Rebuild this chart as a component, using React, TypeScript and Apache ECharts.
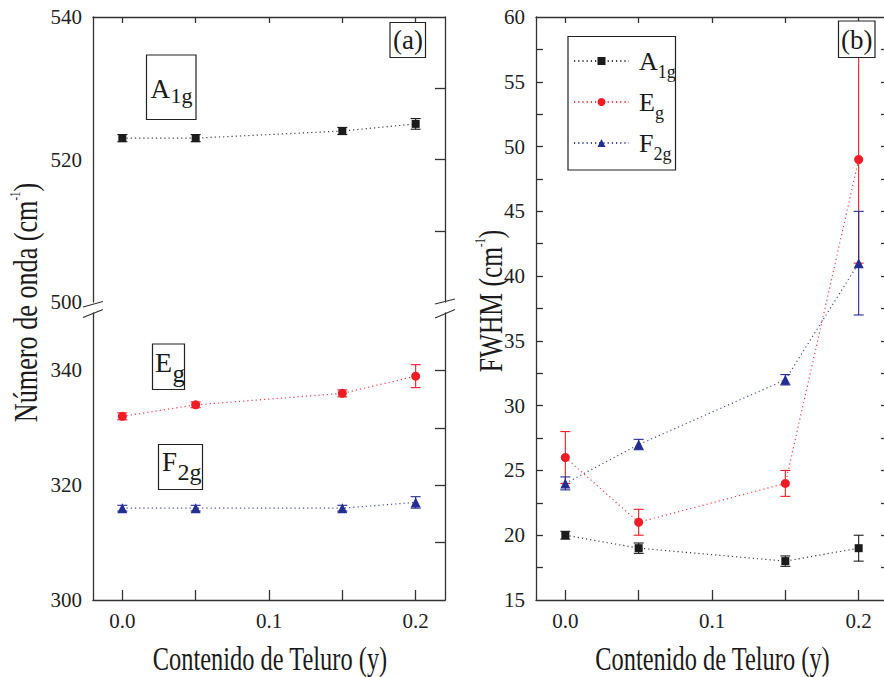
import React, { useEffect, useRef } from 'react';
import * as echarts from 'echarts';

// ---------- data ----------
const composition = [0, 0.05, 0.15, 0.2];

// panel (a): Raman shift (cm^-1)
const waveA1g = [523, 523, 524, 525];
const waveA1gErr = [0.5, 0.5, 0.5, 0.75];
const waveEg = [332, 334, 336, 339];
const waveEgErr = [0.6, 0.5, 0.6, 2];
const waveF2g = [316, 316, 316, 317];
const waveF2gErr = [0.5, 0.5, 0.5, 1];

// panel (b): FWHM (cm^-1)
const fwhmA1g = [20, 19, 18, 19];
const fwhmA1gErr = [0.3, 0.4, 0.4, 1];
const fwhmEg = [26, 21, 24, 49];
const fwhmEgErr = [2, 1, 1, 8];
const fwhmF2g = [24, 27, 32, 41];
const fwhmF2gErr = [0.5, 0.4, 0.4, 4];

// ticks / labels
const xTickValues = [0, 0.05, 0.1, 0.15, 0.2];
const xLabelValues = [0, 0.1, 0.2];
const waveTopLabels = [500, 520, 540];
const waveTopTicks = [510, 520, 530];
const waveBottomLabels = [300, 320, 340];
const waveBottomTicks = [310, 320, 330, 340];
const fwhmLabels = [15, 20, 25, 30, 35, 40, 45, 50, 55, 60];
const fwhmTicks = [17.5, 20, 22.5, 25, 27.5, 30, 32.5, 35, 37.5, 40, 42.5, 45, 47.5, 50, 52.5, 55, 57.5];

const FONT = 'Liberation Serif';
const BLACK = '#1b1b1b';
const RED = '#ee1c25';
const BLUE = '#232d92';
const AXIS = { color: '#333', width: 1.3 };

const xAxisDef = (gridIndex: number, position: string, showLabel: boolean, tickLen: number) => ({
  type: 'value',
  gridIndex,
  position,
  min: -0.02,
  max: 0.22,
  axisLine: { show: true, onZero: false, lineStyle: AXIS },
  axisTick: { show: true, inside: true, length: tickLen, customValues: xTickValues, lineStyle: AXIS },
  axisLabel: showLabel
    ? {
        show: true,
        customValues: xLabelValues,
        formatter: (v: number) => v.toFixed(1),
        fontFamily: FONT,
        fontSize: 21,
        color: '#222',
        margin: 10,
      }
    : { show: false },
  splitLine: { show: false },
});

const yAxisDef = (
  gridIndex: number,
  position: string,
  min: number,
  max: number,
  labels: number[] | null,
  ticks: number[] | null,
  tickLen: number
) => ({
  type: 'value',
  gridIndex,
  position,
  min,
  max,
  axisLine: { show: true, onZero: false, lineStyle: AXIS },
  axisTick: ticks
    ? { show: true, inside: true, length: tickLen, customValues: ticks, lineStyle: AXIS }
    : { show: false },
  axisLabel: labels
    ? { show: true, customValues: labels, fontFamily: FONT, fontSize: 21, color: '#222', margin: 11 }
    : { show: false },
  splitLine: { show: false },
});

const lineSeries = (
  name: string,
  ys: number[],
  color: string,
  symbol: string,
  symbolSize: number,
  xi: number,
  yi: number
) => ({
  type: 'line',
  name,
  xAxisIndex: xi,
  yAxisIndex: yi,
  data: composition.map((x, i) => [x, ys[i]]),
  symbol,
  symbolSize,
  showSymbol: true,
  itemStyle: { color },
  lineStyle: { color, width: 1.2, type: [1.2, 3], opacity: 0.85 },
  z: 3,
});

const errorSeries = (
  name: string,
  ys: number[],
  errs: number[],
  color: string,
  xi: number,
  yi: number
) => ({
  type: 'custom',
  name,
  xAxisIndex: xi,
  yAxisIndex: yi,
  silent: true,
  z: 2,
  data: composition.map((x, i) => [x, ys[i] - errs[i], ys[i] + errs[i]]),
  encode: { x: 0, y: [1, 2] },
  renderItem: (_params: any, api: any) => {
    const lo = api.coord([api.value(0), api.value(1)]);
    const hi = api.coord([api.value(0), api.value(2)]);
    const hw = 5;
    const style = { stroke: color, lineWidth: 1.1 };
    return {
      type: 'group',
      children: [
        { type: 'line', shape: { x1: hi[0], y1: hi[1], x2: lo[0], y2: lo[1] }, style },
        { type: 'line', shape: { x1: hi[0] - hw, y1: hi[1], x2: hi[0] + hw, y2: hi[1] }, style },
        { type: 'line', shape: { x1: lo[0] - hw, y1: lo[1], x2: lo[0] + hw, y2: lo[1] }, style },
      ],
    };
  },
});

const legendNames: Record<string, string> = {
  A1g: '{m|A}{s|1g}',
  Eg: '{m|E}{s|g}',
  F2g: '{m|F}{s|2g}',
};

const boxStyle = { fill: '#fff', stroke: '#222', lineWidth: 1.2 };

const txt = (text: string, x: number, y: number, size: number, align = 'left') => ({
  type: 'text',
  x,
  y,
  z: 101,
  style: { text, fontFamily: FONT, fontSize: size, fill: '#1b1b1b', textAlign: align, textVerticalAlign: 'middle' },
});

const rect = (x: number, y: number, w: number, h: number, fill = true) => ({
  type: 'rect',
  z: 100,
  shape: { x, y, width: w, height: h },
  style: { ...boxStyle, fill: fill ? '#fff' : 'none' },
});

const brk = (x1: number, y1: number, x2: number, y2: number) => ({
  type: 'line',
  z: 100,
  shape: { x1, y1, x2, y2 },
  style: { stroke: '#333', lineWidth: 1.2 },
});

const titleRich = {
  n: { fontFamily: FONT, fontSize: 34, lineHeight: 34, fill: '#1b1b1b' },
  s: { fontFamily: FONT, fontSize: 14, lineHeight: 24, verticalAlign: 'top', fill: '#1b1b1b' },
};

export default function App() {
  const ref = useRef<HTMLDivElement>(null);

  useEffect(() => {
    if (!ref.current) return;
    const chart = echarts.init(ref.current, undefined, { renderer: 'svg' });

    const option: any = {
      animation: false,
      backgroundColor: '#fff',
      textStyle: { fontFamily: FONT },
      grid: [
        { left: 93, top: 17, width: 352, height: 285, outerBoundsMode: 'none' },
        { left: 93, top: 313, width: 352, height: 287, outerBoundsMode: 'none' },
        { left: 536, top: 17, width: 352, height: 583, outerBoundsMode: 'none' },
      ],
      xAxis: [
        xAxisDef(0, 'top', false, 6),
        xAxisDef(1, 'bottom', true, 10),
        xAxisDef(2, 'bottom', true, 10),
        xAxisDef(2, 'top', false, 6),
      ],
      yAxis: [
        yAxisDef(0, 'left', 500, 540, waveTopLabels, null, 0),
        yAxisDef(0, 'right', 500, 540, null, waveTopTicks, 10),
        yAxisDef(1, 'left', 300, 350, waveBottomLabels, null, 0),
        yAxisDef(1, 'right', 300, 350, null, waveBottomTicks, 10),
        yAxisDef(2, 'left', 15, 60, fwhmLabels, fwhmTicks, 7),
        yAxisDef(2, 'right', 15, 60, null, fwhmTicks, 7),
      ],
      legend: {
        data: ['A1g', 'Eg', 'F2g'],
        orient: 'vertical',
        left: 573,
        top: 41,
        padding: 0,
        itemWidth: 55,
        itemHeight: 10,
        itemGap: 1,
        selectedMode: false,
        formatter: (name: string) => legendNames[name] || name,
        textStyle: {
          fontFamily: FONT,
          color: '#1b1b1b',
          rich: {
            m: { fontFamily: FONT, fontSize: 26, lineHeight: 26, color: '#1b1b1b', padding: [0, 0, 0, 5] },
            s: { fontFamily: FONT, fontSize: 18, lineHeight: 16, color: '#1b1b1b', padding: [22, 0, 0, 0] },
          },
        },
      },
      series: [
        errorSeries('A1g (a) err', waveA1g, waveA1gErr, BLACK, 0, 0),
        lineSeries('A1g (a)', waveA1g, BLACK, 'rect', 8, 0, 0),
        errorSeries('Eg (a) err', waveEg, waveEgErr, RED, 1, 2),
        lineSeries('Eg (a)', waveEg, RED, 'circle', 9, 1, 2),
        errorSeries('F2g (a) err', waveF2g, waveF2gErr, BLUE, 1, 2),
        lineSeries('F2g (a)', waveF2g, BLUE, 'triangle', 10, 1, 2),

        errorSeries('A1g err', fwhmA1g, fwhmA1gErr, BLACK, 2, 4),
        lineSeries('A1g', fwhmA1g, BLACK, 'rect', 8, 2, 4),
        errorSeries('Eg err', fwhmEg, fwhmEgErr, RED, 2, 4),
        lineSeries('Eg', fwhmEg, RED, 'circle', 9, 2, 4),
        errorSeries('F2g err', fwhmF2g, fwhmF2gErr, BLUE, 2, 4),
        lineSeries('F2g', fwhmF2g, BLUE, 'triangle', 10, 2, 4),
      ],
      graphic: [
        // axis break marks
        brk(83, 307, 103, 301.5),
        brk(83, 317.5, 103, 309.5),
        brk(435, 304, 455, 299),
        brk(435, 318, 455, 309.5),
        // label boxes panel (a)
        rect(146.5, 55, 49.5, 64.5, false),
        txt('A', 150.5, 89.1, 27),
        txt('1g', 170.5, 95.5, 22),
        rect(152.5, 344, 32, 45.5, false),
        txt('E', 155, 362.2, 28),
        txt('g', 172.5, 373, 25),
        rect(158.5, 444.5, 44, 45, false),
        txt('F', 162, 461.5, 27),
        txt('2g', 177.5, 471.5, 24),
        rect(390, 22.5, 35.5, 35),
        txt('(a)', 408, 40, 27, 'center'),
        // panel (b)
        rect(838.5, 21, 36.5, 36.5),
        txt('(b)', 856.7, 39.5, 27, 'center'),
        rect(568, 36.5, 107.5, 133.5, false),
        // axis titles
        {
          type: 'text',
          x: 270,
          y: 659,
          scaleX: 0.74,
          z: 101,
          style: { text: 'Contenido de Teluro (y)', fontFamily: FONT, fontSize: 33, fill: '#1b1b1b', textAlign: 'center', textVerticalAlign: 'middle' },
        },
        {
          type: 'text',
          x: 712.5,
          y: 659,
          scaleX: 0.74,
          z: 101,
          style: { text: 'Contenido de Teluro (y)', fontFamily: FONT, fontSize: 33, fill: '#1b1b1b', textAlign: 'center', textVerticalAlign: 'middle' },
        },
        {
          type: 'text',
          x: 25.5,
          y: 302.5,
          rotation: Math.PI / 2,
          scaleX: 0.77,
          z: 101,
          style: { text: '{n|Número de onda (cm}{s|-1}{n|)}', rich: titleRich, textAlign: 'center', textVerticalAlign: 'middle' },
        },
        {
          type: 'text',
          x: 490.5,
          y: 301,
          rotation: Math.PI / 2,
          scaleX: 0.75,
          z: 101,
          style: { text: '{n|FWHM (cm}{s|-1}{n|)}', rich: titleRich, textAlign: 'center', textVerticalAlign: 'middle' },
        },
      ],
    };

    chart.setOption(option);
    return () => chart.dispose();
  }, []);

  return (
    <div
      ref={ref}
      style={{ position: 'fixed', left: 0, top: 0, width: 884, height: 677, background: '#fff' }}
    />
  );
}
